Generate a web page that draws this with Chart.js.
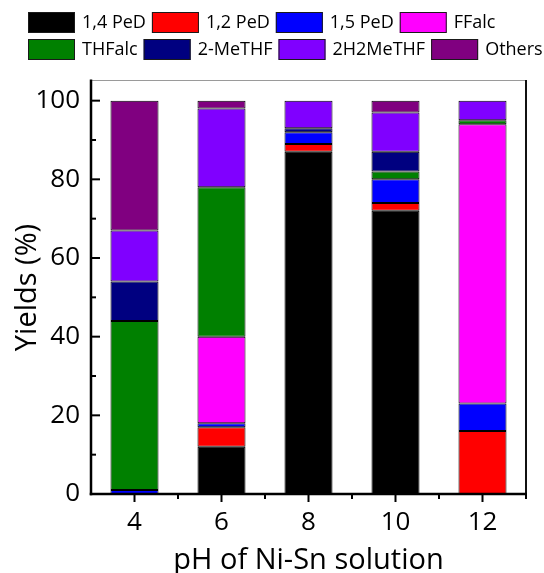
<!DOCTYPE html>
<html><head><meta charset="utf-8">
<script src="https://cdn.jsdelivr.net/npm/chart.js@4"></script>
<style>html,body{margin:0;padding:0;background:#fff}#wrap{width:544px;height:573px;position:relative}</style>
</head><body><div id="wrap"><canvas id="c"></canvas></div>
<script>
const categories = [4, 6, 8, 10, 12];
const seriesNames = ['1,4 PeD', '1,2 PeD', '1,5 PeD', 'FFalc', 'THFalc', '2-MeTHF', '2H2MeTHF', 'Others'];
const pe14 = [0, 12, 87, 72, 0];
const pe12 = [0, 5, 2, 2, 16];
const pe15 = [1, 1, 3, 6, 7];
const ffalc = [0, 22, 0, 0, 71];
const thfalc = [43, 38, 0, 2, 1];
const meTHF = [10, 0, 1, 5, 0];
const h2meTHF = [13, 20, 7, 10, 5];
const others = [33, 2, 0, 3, 0];
const seriesColors = ['#000000', '#ff0000', '#0000ff', '#ff00ff', '#008000', '#000080', '#8000ff', '#800080'];
const xTicks = [4, 6, 8, 10, 12];
const xMinorTicks = [5, 7, 9, 11, 13];
const yTicks = [0, 20, 40, 60, 80, 100];
const yMinorTicks = [10, 30, 50, 70, 90];

const seriesValues = [pe14, pe12, pe15, ffalc, thfalc, meTHF, h2meTHF, others];

Chart.defaults.font.family = "'Open Sans', sans-serif";
Chart.defaults.color = '#000';

const datasets = seriesNames.map((name, s) => ({
  label: name,
  data: categories.map((x, i) => ({x: x, y: seriesValues[s][i] === 0 ? null : seriesValues[s][i]})),
  backgroundColor: seriesColors[s],
  borderColor: '#000000',
  borderWidth: 1,
  borderSkipped: false,
  categoryPercentage: 0.8,
  barPercentage: 0.69
}));

const legendPlugin = {
  id: 'customLegend',
  afterDraw(chart) {
    const ctx = chart.ctx;
    ctx.save();
    ctx.font = "18px 'Open Sans', sans-serif";
    ctx.textBaseline = 'middle';
    ctx.textAlign = 'left';
    const rows = [[0, 1, 2, 3], [4, 5, 6, 7]];
    const rowTop = [12, 39];
    rows.forEach((row, r) => {
      let x = 28;
      row.forEach(idx => {
        const ds = chart.data.datasets[idx];
        ctx.fillStyle = ds.backgroundColor;
        ctx.fillRect(x, rowTop[r], 47, 21);
        ctx.strokeStyle = '#1a1a1a';
        ctx.lineWidth = 1;
        ctx.strokeRect(x + 0.5, rowTop[r] + 0.5, 46, 20);
        ctx.fillStyle = '#000';
        ctx.fillText(ds.label, x + 54, rowTop[r] + 11);
        x += 54 + ctx.measureText(ds.label).width + 6;
      });
    });
    ctx.restore();
  }
};

const framePlugin = {
  id: 'frame',
  afterDraw(chart) {
    const ctx = chart.ctx;
    const a = chart.chartArea;
    const xs = chart.scales.x, ys = chart.scales.y;
    ctx.save();
    ctx.strokeStyle = '#9a9a9a';
    ctx.lineWidth = 1;
    ctx.beginPath(); ctx.moveTo(a.left, 80.5); ctx.lineTo(a.right, 80.5); ctx.stroke();
    ctx.strokeStyle = '#111';
    ctx.lineWidth = 2;
    ctx.beginPath(); ctx.moveTo(a.right, 80); ctx.lineTo(a.right, a.bottom); ctx.stroke();
    ctx.strokeStyle = '#000';
    ctx.lineWidth = 2.5;
    ctx.beginPath(); ctx.moveTo(a.left, 79.5); ctx.lineTo(a.left, a.bottom + 1.25); ctx.stroke();
    ctx.beginPath(); ctx.moveTo(a.left - 1.25, a.bottom); ctx.lineTo(a.right + 1, a.bottom); ctx.stroke();
    ctx.lineWidth = 2;
    yTicks.forEach(v => {
      const y = ys.getPixelForValue(v);
      ctx.beginPath(); ctx.moveTo(a.left, y); ctx.lineTo(a.left + 9, y); ctx.stroke();
    });
    yMinorTicks.forEach(v => {
      const y = ys.getPixelForValue(v);
      ctx.beginPath(); ctx.moveTo(a.left, y); ctx.lineTo(a.left + 5, y); ctx.stroke();
    });
    xTicks.forEach(v => {
      const x = xs.getPixelForValue(v);
      ctx.beginPath(); ctx.moveTo(x, a.bottom); ctx.lineTo(x, a.bottom + 8); ctx.stroke();
    });
    xMinorTicks.forEach(v => {
      const x = xs.getPixelForValue(v);
      ctx.beginPath(); ctx.moveTo(x, a.bottom); ctx.lineTo(x, a.bottom + 5); ctx.stroke();
    });
    ctx.restore();
  }
};

new Chart(document.getElementById('c'), {
  type: 'bar',
  data: { datasets: datasets },
  options: {
    responsive: true,
    maintainAspectRatio: false,
    animation: false,
    layout: { padding: { top: 81, right: 18, left: 0, bottom: 0 } },
    plugins: { legend: { display: false }, tooltip: { enabled: false } },
    scales: {
      x: {
        type: 'linear',
        stacked: true,
        offset: false,
        min: 3, max: 13,
        grid: { display: false, drawTicks: false, offset: false },
        border: { display: false },
        afterBuildTicks: (scale) => { scale.ticks = xTicks.map(v => ({ value: v })); },
        afterFit: (scale) => { scale.height = 79; },
        ticks: { font: { size: 26 }, padding: 13, maxRotation: 0, autoSkip: false, callback: (v) => String(v) },
        title: { display: true, text: 'pH of Ni-Sn solution', font: { size: 29, lineHeight: 1 }, padding: { top: 0, bottom: -2 } }
      },
      y: {
        stacked: true,
        min: 0, max: 105,
        grid: { display: false, drawTicks: false },
        border: { display: false },
        afterBuildTicks: (scale) => { scale.ticks = yTicks.map(v => ({ value: v })); },
        afterFit: (scale) => { scale.width = 91; },
        ticks: { font: { size: 26 }, padding: 11, callback: (v) => String(v) },
        title: { display: true, text: 'Yields (%)', font: { size: 29, lineHeight: 1.2 }, padding: { top: 10, bottom: 0 } }
      }
    }
  },
  plugins: [legendPlugin, framePlugin]
});
</script>
</body></html>
